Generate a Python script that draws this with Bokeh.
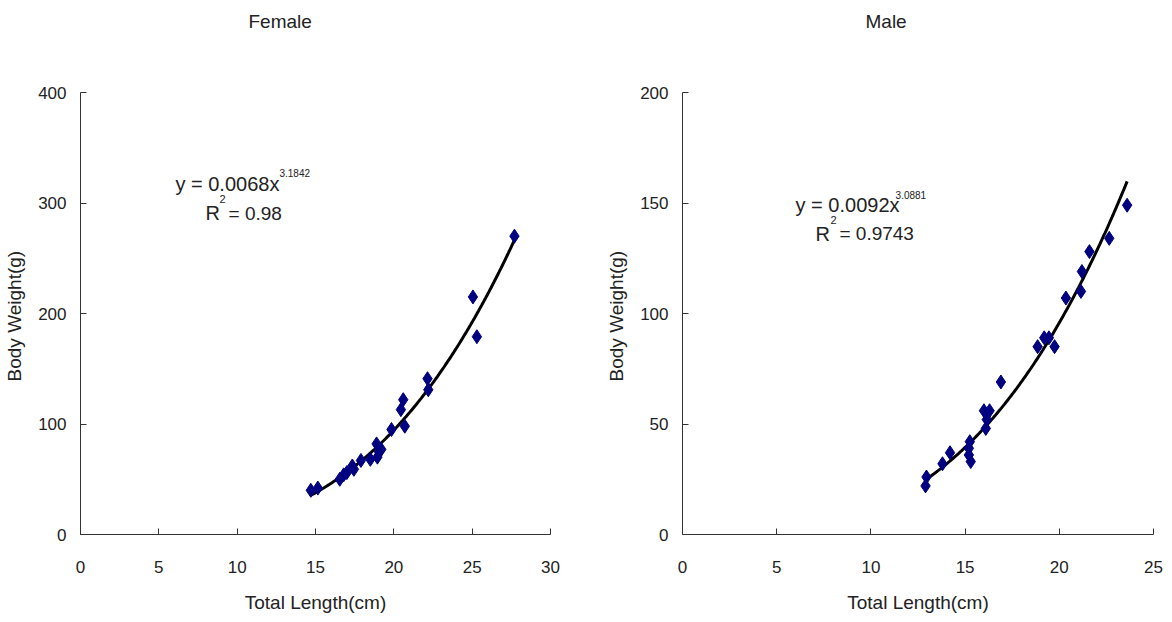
from bokeh.plotting import figure
from bokeh.layouts import row
from bokeh.models import Label, FixedTicker, Range1d, Title
from bokeh.embed import file_html
from bokeh.resources import INLINE
import numpy as np

# ---------------- data ----------------
female_length = [14.7, 15.15, 16.55, 16.8, 17.0, 17.35, 17.45, 17.9, 18.5, 18.9, 18.95,
                 19.05, 19.2, 19.85, 20.7, 20.45, 20.6, 22.15, 22.2, 25.05, 25.3, 27.7]
female_weight = [40, 42, 50, 54, 56, 62, 59, 67, 68, 82, 70,
                 75, 77, 95, 98, 113, 122, 141, 131, 215, 179, 270]
female_a, female_b = 0.0068, 3.1842
female_r2 = "0.98"

male_length = [12.9, 12.95, 13.8, 14.2, 15.2, 15.3, 15.25, 15.2, 16.1, 16.0, 16.3, 16.15,
               16.9, 18.85, 19.2, 19.45, 19.75, 20.35, 21.15, 21.2, 21.6, 22.65, 23.6]
male_weight = [22, 26, 32, 37, 36, 33, 42, 39, 48, 56, 56, 52,
               69, 85, 89, 89, 85, 107, 110, 119, 128, 134, 149]
male_a, male_b = 0.0092, 3.0881
male_r2 = "0.9743"

female_xticks = [0, 5, 10, 15, 20, 25, 30]
female_yticks = [0, 100, 200, 300, 400]
male_xticks = [0, 5, 10, 15, 20, 25]
male_yticks = [0, 50, 100, 150, 200]

FONT = "Liberation Sans"
TXT = "#222222"


def make_panel(title, xs, ys, a, b, r2, xmax, ymax, xticks, yticks,
               width, left, right, title_offset, eq_pos, sup_pos, r_pos, r2sup_pos, req_pos):
    p = figure(width=width, height=622, output_backend="svg", toolbar_location=None,
               x_range=Range1d(0, xmax), y_range=Range1d(0, ymax),
               min_border_left=left, min_border_right=right,
               min_border_top=92, min_border_bottom=88)
    p.outline_line_color = None
    p.grid.visible = False
    p.background_fill_color = "white"
    p.border_fill_color = "white"

    # spacer panel between frame and title (added first -> closest to the frame)
    p.add_layout(Title(text=" ", standoff=52, text_font_size="2px"), "above")
    t = Title(text=title, align="left", offset=title_offset, standoff=10,
              text_font=FONT, text_font_size="19px", text_font_style="normal",
              text_color=TXT)
    p.add_layout(t, "above")

    for ax in (p.xaxis[0], p.yaxis[0]):
        ax.axis_line_color = "#333333"
        ax.major_tick_line_color = "#333333"
        ax.major_tick_in = 6
        ax.major_tick_out = 0
        ax.minor_tick_line_color = None
        ax.major_label_text_font = FONT
        ax.major_label_text_font_size = "17px"
        ax.major_label_text_color = TXT
        ax.axis_label_text_font = FONT
        ax.axis_label_text_font_size = "19px"
        ax.axis_label_text_font_style = "normal"
        ax.axis_label_text_color = TXT
    p.xaxis.ticker = FixedTicker(ticks=xticks)
    p.yaxis.ticker = FixedTicker(ticks=yticks)
    p.xaxis.major_label_standoff = 26
    p.yaxis.major_label_standoff = 14
    p.xaxis.axis_label = "Total Length(cm)"
    p.yaxis.axis_label = "Body  Weight(g)"
    p.xaxis.axis_label_standoff = 16
    p.yaxis.axis_label_standoff = 10

    # fitted power curve from the displayed equation
    xf = np.linspace(min(xs), max(xs), 200)
    p.line(xf, a * xf ** b, line_color="black", line_width=3)
    p.scatter(xs, ys, marker="diamond", size=14, fill_color="#000080", line_color="#000080")

    def lab(text, pos, size, align="left"):
        p.add_layout(Label(x=pos[0], y=pos[1], text=text, text_font=FONT,
                           text_font_size=size, text_color=TXT, text_align=align,
                           text_baseline="middle"))

    lab(f"y = {a:.4f}x", eq_pos, "20px")
    lab(f"{b:.4f}", sup_pos, "10px")
    lab("R", r_pos, "20px")
    lab("2", r2sup_pos, "11px")
    lab(f"= {r2}", req_pos, "19px")
    return p


p1 = make_panel("Female", female_length, female_weight, female_a, female_b, female_r2,
                30, 400, female_xticks, female_yticks, 600, 80, 50, 168,
                eq_pos=(6.06, 317.6), sup_pos=(12.70, 326.7),
                r_pos=(7.98, 290.5), r2sup_pos=(8.87, 303.2), req_pos=(9.45, 290.5))
p2 = make_panel("Male", male_length, male_weight, male_a, male_b, male_r2,
                25, 200, male_xticks, male_yticks, 572, 82, 19, 183,
                eq_pos=(6.0, 149.2), sup_pos=(11.31, 153.7),
                r_pos=(7.06, 136.1), r2sup_pos=(7.86, 142.4), req_pos=(8.33, 136.1))

layout = row(p1, p2)
open("out.html", "w").write(file_html(layout, INLINE))
